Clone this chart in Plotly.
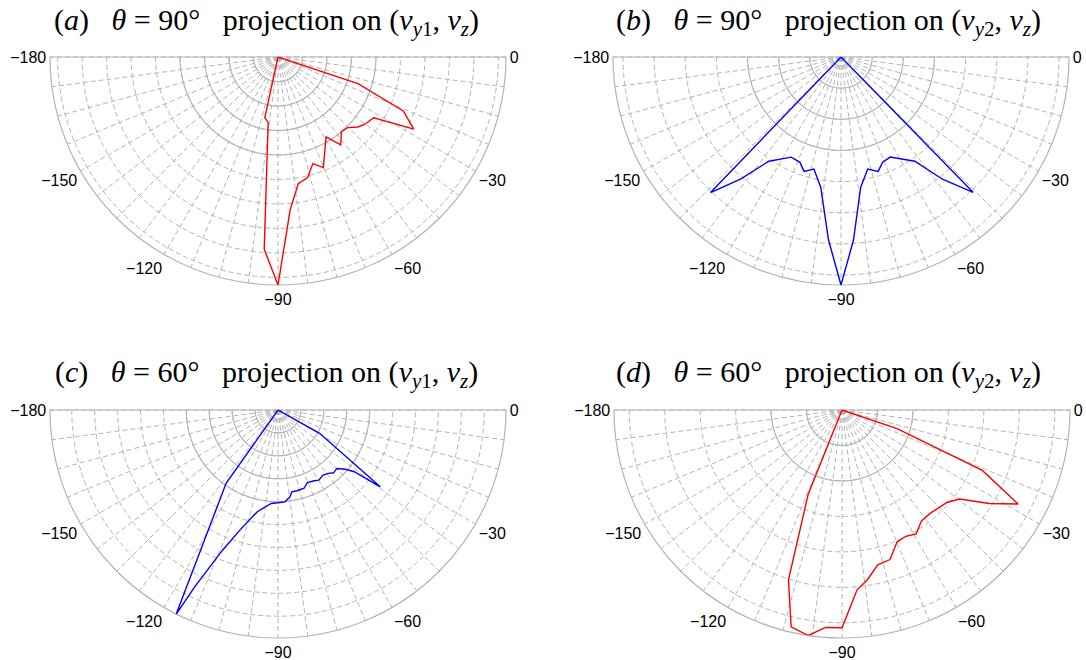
import plotly.graph_objects as go

W, H = 1086, 660

# ---- data: polar curves (theta in degrees, r in grid-circle units) ----
theta_a = [-180, -102.3, -98.5, -94.1, -90, -85.4, -80.9, -76.2, -71.9, -67.7, -59.0, -54.5,
           -49.7, -45.4, -41.2, -37.7, -32.4, -28.0, -23.3, -18.4, 0]
r_a = [0, 2.53, 2.71, 7.87, 9.31, 6.24, 5.24, 5.07, 4.58, 4.88, 3.81, 4.41,
       4.00, 4.05, 4.34, 4.49, 4.63, 6.28, 5.57, 3.44, 0]

theta_b = [-180, -133.9, -129.4, -124.7, -116.4, -111.3, -107.9, -103.6, -98.8, -93.9, -90,
           -86.1, -81.4, -76.6, -72.0, -68.4, -63.8, -54.7, -50.3, -45.7, 0]
r_b = [0, 6.04, 5.06, 4.07, 3.59, 3.63, 3.86, 3.70, 4.24, 5.89, 7.32,
       5.89, 4.23, 3.70, 3.86, 3.63, 3.58, 4.10, 5.10, 6.07, 0]

theta_c = [-180, -125.3, -116.5, -115.2, -111.6, -107.6, -101.5, -94.2, -90, -85.7, -82.1,
           -80.4, -76.7, -71.6, -68.0, -62.8, -59.8, -55.3, -51.6, -48.5, -44.8, -41.3,
           -39.0, -36.9, -29.3, 0]
r_c = [0, 3.92, 9.95, 8.52, 6.58, 5.50, 4.53, 4.09, 4.05, 4.02, 3.82,
       3.62, 3.62, 3.60, 3.42, 3.47, 3.54, 3.45, 3.53, 3.66, 3.62, 3.92,
       4.28, 5.58, 2.08, 0]

theta_d = [-180, -111.9, -107.5, -103.2, -98.5, -94.3, -90, -85.2, -81.5, -77.0, -72.2,
           -67.3, -63.2, -59.1, -54.4, -49.6, -41.2, -37.1, -32.4, -28.1, -23.3, -18.6, 0]
r_d = [0, 2.55, 5.02, 6.28, 6.43, 6.15, 6.14, 5.09, 4.84, 4.48, 4.43,
       4.03, 3.99, 4.07, 3.85, 3.83, 3.95, 4.16, 4.92, 5.63, 4.31, 1.64, 0]

SP = "&nbsp;&nbsp;&nbsp;"
def mk_title(letter, ang, k):
    return ("(<i>%s</i>)%s<i>θ</i> = %s°%sprojection on (<i>v</i><sub><i>y</i>%s</sub>, <i>v</i><sub><i>z</i></sub>)"
            % (letter, SP, ang, SP, k))

titles = [mk_title("a", "90", "1"), mk_title("b", "90", "2"),
          mk_title("c", "60", "1"), mk_title("d", "60", "2")]
colors = ["#ff0000", "#0000ff", "#0000ff", "#ff0000"]
thetas = [theta_a, theta_b, theta_c, theta_d]
rs = [r_a, r_b, r_c, r_d]
solid_rings = [[1, 2, 3, 4], [1, 2, 3], [1, 2, 3, 4], [1, 2]]

angle_labels = [-180, -150, -120, -90, -60, -30, 0]
angle_step = 7.5

# layout geometry (pixels)
centers = [(278, 57), (841, 57), (278, 410), (842, 410)]
R = 228
title_pos = [(266, 22), (828, 22), (266, 374), (828, 374)]

GRID = "#b4b4b4"
fig = go.Figure()

ang_vals = [-180 + angle_step * k for k in range(int(180 / angle_step) + 1)]
ang_ticks = [v + 360 for v in ang_vals]
ang_text = [("\u2212%d" % abs(v) if v < 0 else "0") if any(abs(v - a) < 1e-6 for a in angle_labels) else " "
            for v in ang_vals]

for i in range(4):
    pid = "polar" if i == 0 else "polar%d" % (i + 1)
    rmax = max(rs[i])
    # solid grid circles
    for ring in solid_rings[i]:
        th = list(range(-180, 1))
        fig.add_trace(go.Scatterpolar(r=[ring] * len(th), theta=th, mode="lines",
                                      line=dict(color=GRID, width=1.1), subplot=pid,
                                      hoverinfo="skip", showlegend=False))
    # center dot
    fig.add_trace(go.Scatterpolar(r=[0], theta=[-90], mode="markers", cliponaxis=True,
                                  marker=dict(size=9, color="#b4b4b4"), subplot=pid,
                                  hoverinfo="skip", showlegend=False))
    fig.add_trace(go.Scatterpolar(r=rs[i], theta=thetas[i], mode="lines",
                                  line=dict(color=colors[i], width=1.4), subplot=pid,
                                  showlegend=False))
    cx, cy = centers[i]
    dom = dict(x=[(cx - R) / W, (cx + R) / W], y=[1 - (cy + R) / H, 1 - cy / H])
    fig.layout[pid] = dict(
        domain=dom,
        sector=[180, 360],
        bgcolor="white",
        angularaxis=dict(rotation=0, direction="counterclockwise", tickmode="array",
                         tickvals=ang_ticks, ticktext=ang_text, ticks="",
                         showgrid=True, gridcolor=GRID, griddash="5px,3px", gridwidth=1,
                         showline=True, linecolor=GRID, linewidth=1.2, layer="below traces",
                         tickfont=dict(family="Liberation Sans", size=16, color="black")),
        radialaxis=dict(range=[0, rmax], tickmode="array",
                        tickvals=[k for k in range(1, int(rmax) + 1) if k < rmax - 0.05],
                        showticklabels=False, ticks="", showline=False, layer="below traces",
                        showgrid=True, gridcolor=GRID, griddash="5px,3px", gridwidth=1),
    )
    tx, ty = title_pos[i]
    fig.add_annotation(x=tx / W, y=1 - ty / H, xref="paper", yref="paper",
                       text=titles[i], showarrow=False, xanchor="center", yanchor="middle",
                       font=dict(family="Liberation Serif", size=30, color="black"))

fig.update_layout(width=W, height=H, margin=dict(l=0, r=0, t=0, b=0),
                  paper_bgcolor="white", plot_bgcolor="white", showlegend=False)
fig.write_html("out.html")
